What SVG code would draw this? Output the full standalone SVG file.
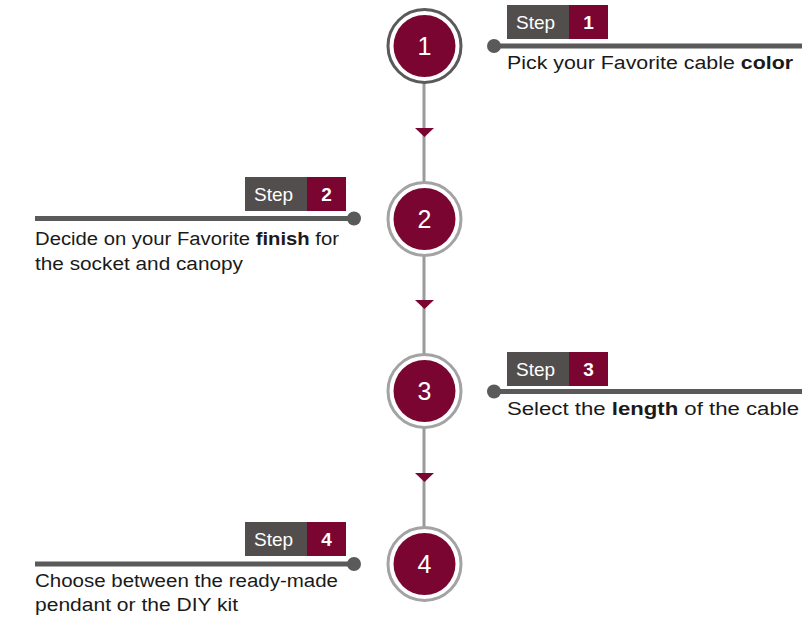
<svg xmlns="http://www.w3.org/2000/svg" width="802" height="621" viewBox="0 0 802 621">
<style>
.ring{fill:#fff;stroke:#a3a3a3;stroke-width:3}
.ring1{stroke:#5a5a5a}
.core{fill:#7a0530}
.num{font-family:"Liberation Sans",Arial,sans-serif;font-size:25px;fill:#fff;text-anchor:middle}
.vline{stroke:#9a9a9a;stroke-width:3}
.arr{fill:#7a0530}
.hline{stroke:#5a5a5a;stroke-width:5}
.dot{fill:#5a5a5a}
.gbox{fill:#524e4d}
.rbox{fill:#7a0530}
.stp{font-family:"Liberation Sans",Arial,sans-serif;font-size:19px;fill:#fff}
.sn{font-family:"Liberation Sans",Arial,sans-serif;font-size:19px;font-weight:bold;fill:#fff;text-anchor:middle}
.txt{font-family:"Liberation Sans",Arial,sans-serif;font-size:18px;fill:#1a1a1a}
.b{font-weight:bold}
</style>
<rect width="802" height="621" fill="#fff"/>
<g id="connectors">
<line class="vline" x1="424" y1="83" x2="424" y2="182"/>
<polygon class="arr" points="415,128 434,128 424.5,137"/>
<line class="vline" x1="424" y1="256" x2="424" y2="354"/>
<polygon class="arr" points="415,300 434,300 424.5,309"/>
<line class="vline" x1="424" y1="428" x2="424" y2="527"/>
<polygon class="arr" points="415,473 434,473 424.5,482"/>
</g>
<g id="node1">
<circle class="ring ring1" cx="424.5" cy="46" r="36.5"/>
<circle class="core" cx="424.5" cy="46" r="31"/>
<text class="num" x="424.5" y="55">1</text>
</g>
<g id="node2">
<circle class="ring" cx="424.5" cy="219" r="36.5"/>
<circle class="core" cx="424.5" cy="219" r="31"/>
<text class="num" x="424.5" y="228">2</text>
</g>
<g id="node3">
<circle class="ring" cx="424.5" cy="391" r="36.5"/>
<circle class="core" cx="424.5" cy="391" r="31"/>
<text class="num" x="424.5" y="400">3</text>
</g>
<g id="node4">
<circle class="ring" cx="424.5" cy="564" r="36.5"/>
<circle class="core" cx="424.5" cy="564" r="31"/>
<text class="num" x="424.5" y="573">4</text>
</g>
<g id="label1">
<line class="hline" x1="494" y1="46" x2="802" y2="46"/>
<circle class="dot" cx="494" cy="46" r="7"/>
<rect class="gbox" x="507" y="5" width="62" height="34"/>
<rect class="rbox" x="569" y="5" width="39" height="34"/>
<text class="stp" x="516" y="29">Step</text>
<text class="sn" x="588.5" y="29">1</text>
<text class="txt" x="507" y="69" textLength="286" lengthAdjust="spacingAndGlyphs">Pick your Favorite cable <tspan class="b">color</tspan></text>
</g>
<g id="label2">
<line class="hline" x1="35" y1="218.5" x2="354" y2="218.5"/>
<circle class="dot" cx="354" cy="218.5" r="7"/>
<rect class="gbox" x="245" y="177" width="62" height="34"/>
<rect class="rbox" x="307" y="177" width="39" height="34"/>
<text class="stp" x="254" y="201">Step</text>
<text class="sn" x="326.5" y="201">2</text>
<text class="txt" x="35" y="245" textLength="304" lengthAdjust="spacingAndGlyphs">Decide on your Favorite <tspan class="b">finish</tspan> for</text>
<text class="txt" x="35" y="270" textLength="208" lengthAdjust="spacingAndGlyphs">the socket and canopy</text>
</g>
<g id="label3">
<line class="hline" x1="494" y1="391.5" x2="802" y2="391.5"/>
<circle class="dot" cx="494" cy="391.5" r="7"/>
<rect class="gbox" x="507" y="352" width="62" height="34"/>
<rect class="rbox" x="569" y="352" width="39" height="34"/>
<text class="stp" x="516" y="376">Step</text>
<text class="sn" x="588.5" y="376">3</text>
<text class="txt" x="507" y="415" textLength="292" lengthAdjust="spacingAndGlyphs">Select the <tspan class="b">length</tspan> of the cable</text>
</g>
<g id="label4">
<line class="hline" x1="35" y1="564" x2="354" y2="564"/>
<circle class="dot" cx="354" cy="564" r="7"/>
<rect class="gbox" x="245" y="522" width="62" height="34"/>
<rect class="rbox" x="307" y="522" width="39" height="34"/>
<text class="stp" x="254" y="546">Step</text>
<text class="sn" x="326.5" y="546">4</text>
<text class="txt" x="35" y="587" textLength="303" lengthAdjust="spacingAndGlyphs">Choose between the ready-made</text>
<text class="txt" x="35" y="611" textLength="203" lengthAdjust="spacingAndGlyphs">pendant or the DIY kit</text>
</g>
</svg>
